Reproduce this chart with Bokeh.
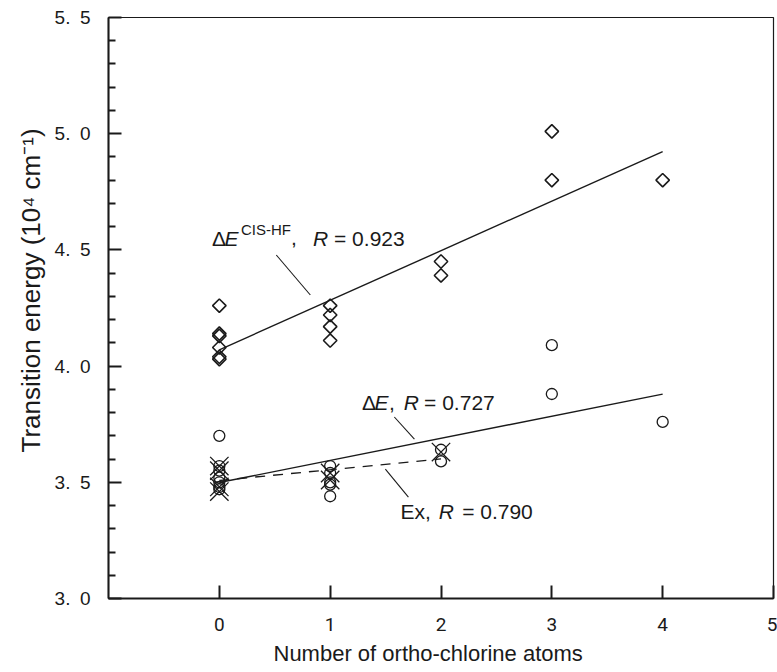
import math
import numpy as np
from bokeh.plotting import figure
from bokeh.models import Label, Title, FixedTicker, Range1d
from bokeh.embed import file_html
from bokeh.resources import INLINE

# ---------------- data ----------------
x_ticks = [0, 1, 2, 3, 4, 5]
y_major = [3.0, 3.5, 4.0, 4.5, 5.0, 5.5]
y_tick_labels = ["3.\u20020", "3.\u20025", "4.\u20020", "4.\u20025", "5.\u20020", "5.\u20025"]
y_minor = [3.1, 3.2, 3.3, 3.4, 3.6, 3.7, 3.8, 3.9, 4.1, 4.2, 4.3, 4.4,
           4.6, 4.7, 4.8, 4.9, 5.1, 5.2, 5.3, 5.4]

# Delta E (CIS-HF)  - diamonds
cis_x = [0, 0, 0, 0, 0, 0, 1, 1, 1, 1, 2, 2, 3, 3, 4]
cis_y = [4.26, 4.14, 4.13, 4.08, 4.04, 4.03, 4.26, 4.22, 4.17, 4.11, 4.45, 4.39, 5.01, 4.80, 4.80]

# Delta E - circles
de_x = [0, 0, 0, 0, 0, 0, 0, 1, 1, 1, 1, 1, 2, 2, 3, 3, 4]
de_y = [3.70, 3.57, 3.55, 3.52, 3.50, 3.48, 3.47, 3.57, 3.54, 3.50, 3.49, 3.44,
        3.64, 3.59, 4.09, 3.88, 3.76]

# Ex - crosses
ex_x = [0, 0, 0, 0, 1, 1, 2]
ex_y = [3.57, 3.55, 3.48, 3.46, 3.54, 3.51, 3.63]

x_title = "Number of ortho-chlorine atoms"
y_title = "Transition energy (10\u2074 cm\u207b\u00b9)"

FONT = "Liberation Sans"
INK = "#1a1a1a"
W, H = 777, 672

p = figure(width=W, height=H, x_range=Range1d(-1, 5), y_range=Range1d(3.0, 5.5),
           output_backend="svg", toolbar_location=None,
           min_border_left=108, min_border_right=4, min_border_top=17, min_border_bottom=74)
p.xgrid.visible = False
p.ygrid.visible = False
p.outline_line_color = INK
p.outline_line_width = 1.2
p.background_fill_color = "white"
p.border_fill_color = "white"

# x axis
xa = p.xaxis[0]
xa.ticker = FixedTicker(ticks=x_ticks)
xa.major_tick_in = 13
xa.major_tick_out = 0
xa.minor_tick_in = 0
xa.minor_tick_out = 0
xa.axis_line_width = 2
xa.major_tick_line_width = 2
xa.axis_line_color = INK
xa.major_tick_line_color = INK
xa.major_label_text_font = "Roboto"
xa.major_label_text_font_size = "19px"
xa.major_label_text_color = INK
xa.major_label_standoff = 19

# y axis
ya = p.yaxis[0]
ya.ticker = FixedTicker(ticks=y_major, minor_ticks=y_minor)
ya.major_label_overrides = dict(zip(y_major, y_tick_labels))
ya.major_tick_in = 13
ya.major_tick_out = 0
ya.minor_tick_in = 7
ya.minor_tick_out = 0
ya.axis_line_width = 2
ya.major_tick_line_width = 2
ya.minor_tick_line_width = 2
ya.axis_line_color = INK
ya.major_tick_line_color = INK
ya.minor_tick_line_color = INK
ya.major_label_text_font = FONT
ya.major_label_text_font_size = "19px"
ya.major_label_text_color = INK
ya.major_label_standoff = 18

# axis titles
p.add_layout(Title(text=y_title, align="left", vertical_align="middle", offset=146, standoff=10,
                   text_font=FONT, text_font_size="26px", text_font_style="normal",
                   text_color=INK), "left")
p.add_layout(Title(text=x_title, align="left", vertical_align="middle", offset=165, standoff=12,
                   text_font=FONT, text_font_size="22px", text_font_style="normal",
                   text_color=INK), "below")

# ---------------- markers ----------------
p.scatter(de_x, de_y, marker="circle", size=11, fill_color=None, line_color=INK, line_width=1.3)
p.scatter(ex_x, ex_y, marker="x", size=26, line_color=INK, line_width=1.3)
p.scatter(cis_x, cis_y, marker="square", angle=math.pi / 4, size=9.5,
          fill_color=None, line_color=INK, line_width=1.6)

# ---------------- regression lines ----------------
def fit_line(xs, ys):
    k, b = np.polyfit(xs, ys, 1)
    x0, x1 = min(xs), max(xs)
    return [x0, x1], [k * x0 + b, k * x1 + b]

fx, fy = fit_line(cis_x, cis_y)
p.line(fx, fy, line_color=INK, line_width=1.4)
fx, fy = fit_line(de_x, de_y)
p.line(fx, fy, line_color=INK, line_width=1.4)
fx, fy = fit_line(ex_x, ex_y)
p.line(fx, fy, line_color=INK, line_width=1.3, line_dash="10 8")

# ---------------- annotations ----------------
leader_x0 = [0.514, 1.579, 1.498]
leader_y0 = [4.478, 3.781, 3.557]
leader_x1 = [0.821, 1.760, 1.706]
leader_y1 = [4.306, 3.686, 3.436]
p.segment(leader_x0, leader_y0, leader_x1, leader_y1, line_color=INK, line_width=1.1)

def piece(x, y, txt, dx, dy=0, size="21px", style="normal"):
    p.add_layout(Label(x=x, y=y, text=txt, x_offset=dx, y_offset=dy,
                       text_font=FONT, text_font_size=size, text_font_style=style,
                       text_color=INK, text_baseline="alphabetic", text_align="left"))

# Delta E^CIS-HF, R = 0.923
ax, ay = -0.066, 4.55
piece(ax, ay, "\u0394", 0)
piece(ax, ay, "E", 12.5, style="italic")
piece(ax, ay, "CIS-HF", 29, dy=9, size="15px")
piece(ax, ay, ",", 79)
piece(ax, ay, "R", 101, style="italic")
piece(ax, ay, "= 0.923", 122)

# Delta E, R = 0.727
ax, ay = 1.288, 3.842
piece(ax, ay, "\u0394", 0)
piece(ax, ay, "E", 12.5, style="italic")
piece(ax, ay, ",", 27)
piece(ax, ay, "R", 41.6, style="italic")
piece(ax, ay, "= 0.727", 62)

# Ex, R = 0.790
ax, ay = 1.634, 3.376
piece(ax, ay, "Ex,", 0)
piece(ax, ay, "R", 38.3, style="italic")
piece(ax, ay, "= 0.790", 61.7)

open("out.html", "w").write(file_html(p, INLINE))
